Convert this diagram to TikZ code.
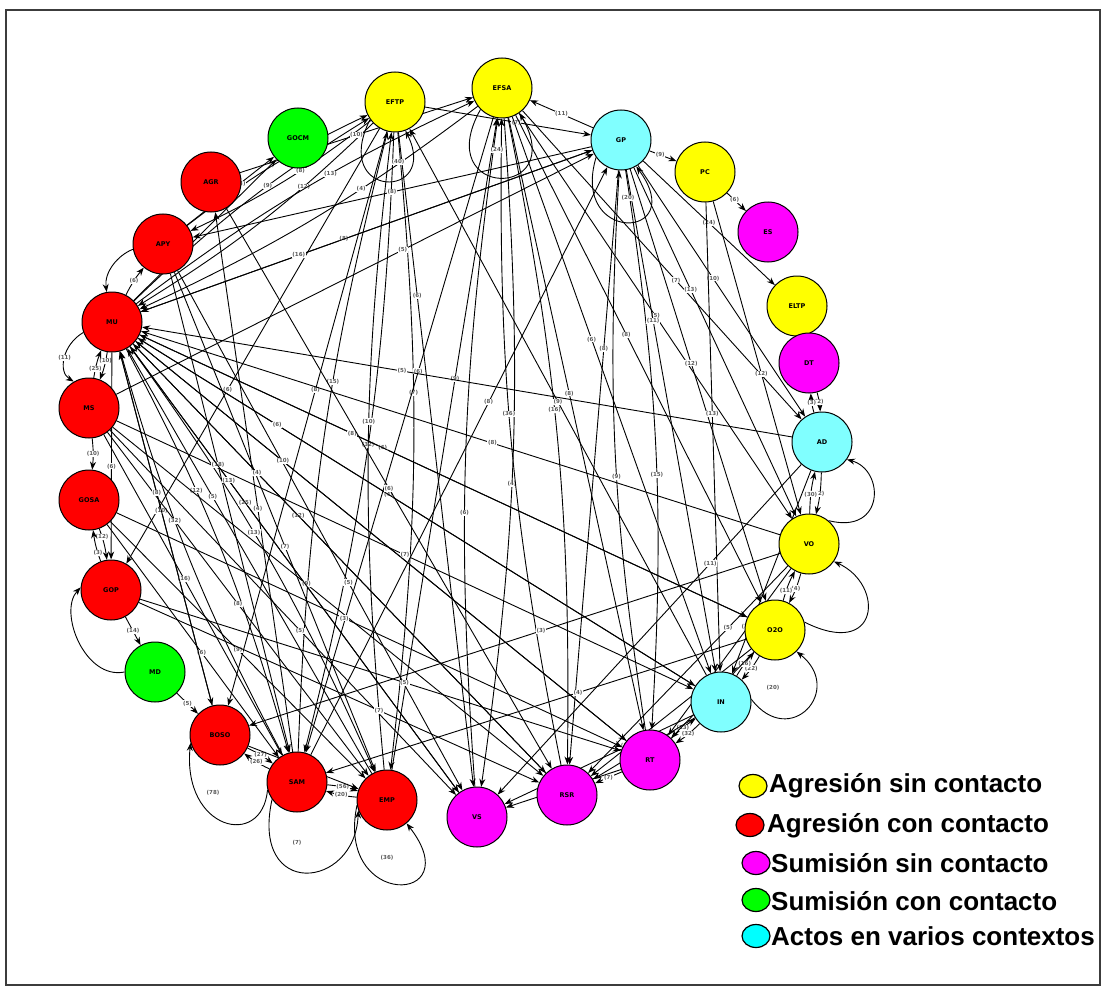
\documentclass[tikz,border=0pt]{standalone}
\usepackage{fontspec}
\setsansfont{DejaVu Sans}
\newfontfamily\legendfont{Liberation Sans}
\usetikzlibrary{arrows.meta,shapes.geometric,backgrounds}

\definecolor{cYlw}{RGB}{255,255,0}
\definecolor{cRed}{RGB}{255,0,0}
\definecolor{cMag}{RGB}{255,0,255}
\definecolor{cGrn}{RGB}{0,255,0}
\definecolor{cCyn}{RGB}{128,255,255}
\definecolor{cCynLeg}{RGB}{0,255,255}
\definecolor{cFrame}{RGB}{60,60,60}

\tikzset{
  vtx/.style={circle,draw=black,line width=1pt,minimum size=60pt,inner sep=0pt,
              font=\fontsize{6.5}{7}\sffamily\bfseries},
  ylw/.style={vtx,fill=cYlw},
  rdn/.style={vtx,fill=cRed},
  mgn/.style={vtx,fill=cMag},
  grn/.style={vtx,fill=cGrn},
  cyn/.style={vtx,fill=cCyn},
  edge/.style={draw=black,line width=0.9pt,-{Stealth[length=8pt,width=6pt]}},
  lbl/.style={fill=white,inner sep=0.6pt,text=black!65,
              font=\fontsize{5.5}{6}\sffamily\bfseries},
  legmark/.style={ellipse,draw=black,line width=1.2pt,minimum width=28pt,
              minimum height=23pt,inner sep=0pt},
  legtext/.style={anchor=base west,inner sep=0pt,
              font=\fontsize{26}{28}\legendfont\bfseries},
}

% straight edge with its count label
\newcommand\edg[4][0.5]{\draw[edge] (#2) -- node[lbl,pos=#1]{(#4)} (#3);}
% slightly bent edge, used for pairs running both ways
\newcommand\edgb[4][0.5]{\draw[edge] (#2) to[bend left=6] node[lbl,pos=#1]{(#4)} (#3);}

\begin{document}
\begin{tikzpicture}[x=1pt,y=-1pt]
\useasboundingbox (0,0) rectangle (1102,987);

% ---- vertices around the ring ----
\node[ylw] (EFTP) at (395,102) {EFTP};
\node[ylw] (EFSA) at (502,88)  {EFSA};
\node[grn] (GOCM) at (298,138) {GOCM};
\node[cyn] (GP)   at (621,140) {GP};
\node[ylw] (PC)   at (705,172) {PC};
\node[mgn] (ES)   at (768,232) {ES};
\node[ylw] (ELTP) at (797,306) {ELTP};
\node[mgn] (DT)   at (809,363) {DT};
\node[cyn] (AD)   at (822,442) {AD};
\node[ylw] (VO)   at (809,544) {VO};
\node[ylw] (O2O)  at (775,630) {O2O};
\node[cyn] (IN)   at (721,702) {IN};
\node[mgn] (RT)   at (650,760) {RT};
\node[mgn] (RSR)  at (567,795) {RSR};
\node[mgn] (VS)   at (477,817) {VS};
\node[rdn] (EMP)  at (387,800) {EMP};
\node[rdn] (SAM)  at (297,782) {SAM};
\node[rdn] (BOSO) at (220,735) {BOSO};
\node[grn] (MD)   at (155,672) {MD};
\node[rdn] (GOP)  at (111,590) {GOP};
\node[rdn] (GOSA) at (89,500)  {GOSA};
\node[rdn] (MS)   at (89,408)  {MS};
\node[rdn] (MU)   at (112,322) {MU};
\node[rdn] (APY)  at (163,244) {APY};
\node[rdn] (AGR)  at (211,182) {AGR};

\begin{pgfonlayer}{background}
\fill[white] (0,0) rectangle (1102,987);
\draw[cFrame,line width=2pt] (6,10) rectangle (1100,985);
% ---- edges from the top vertices ----
\edgb[0.3]{EFTP}{MU}{12}
\edgb[0.6]{MU}{EFTP}{9}
\edgb[0.4]{EFTP}{APY}{8}
\edgb[0.6]{APY}{EFTP}{10}
\edg[0.35]{MU}{GOCM}{12}
\edg[0.6]{APY}{GOCM}{13}
\edgb[0.5]{EFTP}{SAM}{32}
\edgb[0.4]{EFTP}{EMP}{7}
\edgb[0.6]{SAM}{EFTP}{15}
\edgb[0.55]{EMP}{EFTP}{10}
\edg[0.45]{EFTP}{BOSO}{8}
\edg[0.55]{EFTP}{GP}{7}
\edg[0.25]{EFTP}{VS}{6}
\edg[0.6]{EFTP}{GOP}{6}
\edgb[0.35]{EFSA}{MU}{4}
\edgb[0.6]{MU}{EFSA}{13}
\edgb[0.55]{EFSA}{VS}{4}
\edgb[0.45]{EFSA}{RSR}{16}
\edg[0.45]{EFSA}{RT}{8}
\edg[0.4]{EFSA}{IN}{6}
\edg[0.45]{EFSA}{O2O}{8}
\edg[0.5]{EFSA}{VO}{5}
\edg[0.55]{EFSA}{AD}{7}
\edgb[0.4]{VS}{EFSA}{6}
\edgb[0.55]{RSR}{EFSA}{36}
\edg[0.4]{EFSA}{SAM}{6}
\edg[0.6]{EMP}{EFSA}{9}
\edg[0.5]{AGR}{EFSA}{10}
\edg[0.5]{GP}{EFSA}{11}
\edg[0.4]{GP}{PC}{9}
\edg[0.4]{PC}{ES}{6}
\edg[0.5]{GP}{ELTP}{24}
\edg[0.55]{GP}{MU}{8}
\edg[0.5]{GP}{APY}{8}
\edg[0.35]{MU}{GP}{16}
\edg[0.6]{MS}{GP}{5}
\edgb[0.55]{GP}{RT}{15}
\edg[0.45]{GP}{O2O}{12}
\edg[0.35]{GP}{VO}{13}
\edg[0.45]{GP}{AD}{10}
\edg[0.3]{GP}{IN}{11}
\edg[0.3]{GP}{RSR}{8}
\edg[0.45]{PC}{IN}{13}
\edg[0.55]{PC}{VO}{12}
\edgb[0.45]{RT}{GP}{9}
% ---- edges among the right-hand vertices ----
\edgb[0.5]{DT}{AD}{2}
\edgb[0.5]{AD}{DT}{3}
\edgb[0.5]{AD}{VO}{2}
\edgb[0.45]{VO}{AD}{30}
\edgb[0.5]{VO}{O2O}{4}
\edgb[0.3]{O2O}{VO}{11}
\edgb[0.5]{O2O}{IN}{22}
\edgb[0.5]{IN}{O2O}{16}
\edgb[0.5]{IN}{RT}{32}
\edgb[0.5]{RT}{IN}{13}
\edg[0.45]{VO}{MU}{8}
\edg[0.6]{O2O}{MU}{6}
\edg[0.55]{IN}{MU}{4}
\edg[0.6]{AD}{MU}{5}
\edg[0.35]{IN}{VS}{22}
\edg[0.4]{IN}{RSR}{6}
\edg[0.3]{O2O}{RSR}{8}
\edg[0.3]{VO}{RSR}{5}
\edg[0.3]{AD}{VS}{11}
\edg[0.5]{RT}{RSR}{7}
\edg[0.4]{RT}{VS}{3}
\edg[0.4]{O2O}{RT}{22}
\edg[0.35]{VO}{RT}{10}
\edg[0.3]{AD}{IN}{15}
\edg[0.5]{IN}{EFTP}{9}
\edg[0.4]{O2O}{SAM}{4}
\edg[0.45]{VO}{BOSO}{3}
% ---- edges among the left-hand vertices ----
\edgb[0.5]{MU}{APY}{6}
\edg[0.45]{SAM}{AGR}{4}
\edgb[0.3]{MU}{MS}{10}
\edgb[0.3]{MS}{MU}{25}
\edgb[0.5]{MS}{GOSA}{10}
\edgb[0.25]{GOSA}{GOP}{12}
\edgb[0.25]{GOP}{GOSA}{3}
\edg[0.5]{GOP}{MD}{14}
\edg[0.55]{MU}{GOP}{6}
\edg[0.5]{MD}{BOSO}{5}
\edg[0.45]{MU}{BOSO}{10}
\edgb[0.35]{MU}{SAM}{12}
\edgb[0.45]{MU}{EMP}{13}
\edg[0.35]{MU}{VS}{25}
\edg[0.4]{MU}{RSR}{12}
\edg[0.3]{MU}{RT}{4}
\edg[0.25]{MU}{IN}{6}
\edg[0.35]{MU}{O2O}{8}
\edg[0.45]{MS}{SAM}{16}
\edg[0.5]{MS}{EMP}{8}
\edg[0.55]{MS}{VS}{5}
\edg[0.45]{MS}{RSR}{9}
\edg[0.5]{MS}{IN}{7}
\edg[0.55]{APY}{EMP}{7}
\edg[0.4]{APY}{SAM}{18}
\edg[0.6]{APY}{VS}{5}
\edg[0.5]{AGR}{RSR}{6}
\edg[0.5]{GOSA}{EMP}{9}
\edg[0.55]{GOSA}{SAM}{6}
\edg[0.45]{GOSA}{RT}{3}
\edg[0.55]{GOP}{RT}{5}
\edg[0.6]{GOP}{RSR}{7}
\edgb[0.5]{BOSO}{SAM}{27}
\edgb[0.5]{SAM}{BOSO}{26}
\edgb[0.5]{SAM}{EMP}{56}
\edgb[0.5]{EMP}{SAM}{20}
\edg[0.6]{BOSO}{EMP}{9}
\edgb[0.6]{SAM}{MU}{32}
\edg[0.65]{EMP}{MU}{5}
\edg[0.6]{BOSO}{MU}{8}
\edg[0.7]{VS}{MU}{13}
\edg[0.7]{RSR}{MU}{4}
\edg[0.7]{RT}{MU}{10}
\edg[0.6]{SAM}{GP}{8}

% ---- curved edges and loops on the rim ----
\draw[edge] (APY.190) .. controls (118,255) and (104,272) .. (MU.100);
\draw[edge] (MU.200) .. controls (62,345) and (58,372) .. node[lbl,pos=0.5]{(11)} (MS.120);
\draw[edge] (MD.180) .. controls (85,680) and (58,612) .. (GOP.175);
\draw[edge] (SAM.195) .. controls (262,850) and (182,830) .. (BOSO.195);
\node[lbl] (l78) at (213,793) {(78)};
\draw[edge] (SAM.215) .. controls (250,900) and (355,890) .. (EMP.200);
\node[lbl] (l7) at (297,843) {(7)};
\draw[edge] (EMP.190) .. controls (335,910) and (470,905) .. (EMP.-50);
\node[lbl] (l36) at (387,858) {(36)};
\draw[edge] (VO.50) .. controls (885,535) and (885,470) .. (AD.-35);
\draw[edge] (O2O.15) .. controls (880,660) and (885,585) .. (VO.-35);
\draw[edge] (IN.5) .. controls (790,750) and (845,690) .. (O2O.-45);
\node[lbl] (l20b) at (773,688) {(20)};
\draw[edge] (EFTP.215) .. controls (330,200) and (440,200) .. (EFTP.-70);
\node[lbl] (l40) at (398,162) {(40)};
\draw[edge] (EFSA.225) .. controls (430,200) and (570,200) .. (EFSA.-55);
\node[lbl] (l24) at (497,150) {(24)};
\draw[edge] (GP.215) .. controls (570,245) and (690,240) .. (GP.-60);
\node[lbl] (l20a) at (628,198) {(20)};
\end{pgfonlayer}

% ---- legend ----
\node[legmark,fill=cYlw]    (k1) at (753,786) {};
\node[legmark,fill=cRed]    (k2) at (750,825) {};
\node[legmark,fill=cMag]    (k3) at (756,863) {};
\node[legmark,fill=cGrn]    (k4) at (756,900) {};
\node[legmark,fill=cCynLeg] (k5) at (756,936) {};
\node[legtext] (t1) at (769,792) {Agresión sin contacto};
\node[legtext] (t2) at (767,832) {Agresión con contacto};
\node[legtext] (t3) at (771,872) {Sumisión sin contacto};
\node[legtext] (t4) at (771,910) {Sumisión con contacto};
\node[legtext] (t5) at (771,945) {Actos en varios contextos};
\end{tikzpicture}
\end{document}
